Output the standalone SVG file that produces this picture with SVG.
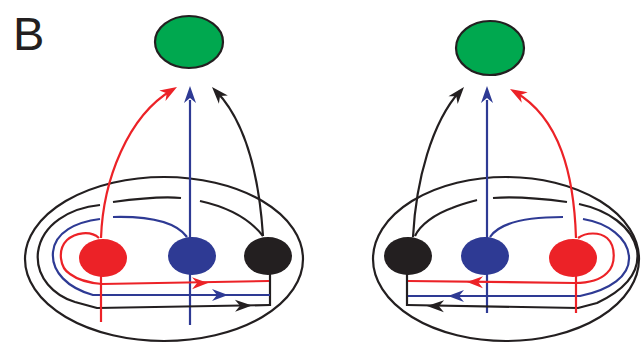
<svg xmlns="http://www.w3.org/2000/svg" xmlns:xlink="http://www.w3.org/1999/xlink" width="641" height="344" viewBox="0 0 641 344">
  <style>
    .ln { fill: none; stroke-width: 2.2; stroke-linecap: butt; stroke-linejoin: round; }
    .r { stroke: #ec2227; }
    .b { stroke: #2e3a94; }
    .k { stroke: #231f20; }
    .fr { fill: #ec2227; }
    .fb { fill: #2e3a94; }
    .fk { fill: #231f20; }
    .ring { fill: none; stroke: #231f20; stroke-width: 2.2; }
    .target { fill: #00a84f; stroke: #231f20; stroke-width: 2.2; }
    .label { font-family: "Liberation Sans", Arial, sans-serif; font-size: 47px; fill: #231f20; }
  </style>
  <defs>
    <!-- swept-back arrowhead, tip at origin pointing along +x -->
    <path id="ah" d="M0,0 L-17,-6 L-12,0 L-17,6 Z"/>
    <path id="ahs" d="M0,0 L-16,-6 L-11,0 L-16,6 Z"/>
  </defs>

  <text class="label" x="13" y="50">B</text>

  <!-- left panel -->
  <g id="left-panel">
    <g id="left-field">
      <ellipse class="ring" cx="164" cy="259" rx="139" ry="82"/>
    </g>
    <g id="left-target">
      <ellipse class="target" cx="189" cy="42" rx="34" ry="26"/>
    </g>
    <g id="left-connectors">
      <!-- projections to target -->
      <path class="ln r" d="M101,238 C103,180 128,116 172,90"/>
      <use xlink:href="#ah" class="fr" transform="translate(177,87) rotate(-31)"/>
      <path class="ln b" d="M190,325 L190,100"/>
      <use xlink:href="#ah" class="fb" transform="translate(190,86) rotate(-90)"/>
      <path class="ln k" d="M263,236 C259,175 246,122 216,91"/>
      <use xlink:href="#ah" class="fk" transform="translate(212,87) rotate(-132)"/>

      <!-- black loop -->
      <path class="ln k" d="M263,236 C252,222 232,208 200,201"/>
      <path class="ln k" d="M181,198 C160,196 135,199 113,202"/>
      <path class="ln k" d="M100,205 C70,208 42,224 38,252 C35,278 55,296 75,302 L97,308 L270,305"/>
      <path class="ln k" d="M270,274 L270,306"/>
      <use xlink:href="#ah" class="fk" transform="translate(252,305.5) rotate(-1)"/>

      <!-- blue loop -->
      <path class="ln b" d="M187,237 C176,222 152,216 113,217"/>
      <path class="ln b" d="M100,219 C76,222 55,232 53,252 C51,272 68,288 93,295 L270,295"/>
      <use xlink:href="#ahs" class="fb" transform="translate(228,295)"/>

      <!-- red loop -->
      <path class="ln r" d="M99,238 C90,230 75,233 67,240 C57,250 60,268 70,274 C78,280 90,283 102,284 L269,281"/>
      <use xlink:href="#ahs" class="fr" transform="translate(208,283) rotate(-0.6)"/>

      <!-- descending lines -->
      <path class="ln r" d="M101,276 L101,322"/>
    </g>
    <g id="left-red">
      <ellipse class="fr" cx="103" cy="258" rx="24" ry="19"/>
    </g>
    <g id="left-blue">
      <ellipse class="fb" cx="192" cy="256" rx="24" ry="19"/>
    </g>
    <g id="left-black">
      <ellipse class="fk" cx="268" cy="256" rx="24" ry="19"/>
    </g>
  </g>

  <!-- right panel -->
  <g id="right-panel">
    <g id="right-field">
      <ellipse class="ring" cx="506" cy="259" rx="133" ry="82"/>
    </g>
    <g id="right-target">
      <ellipse class="target" cx="490" cy="48" rx="34" ry="27"/>
    </g>
    <g id="right-connectors">
      <!-- projections to target -->
      <path class="ln k" d="M413,237 C416,180 432,122 460,91"/>
      <use xlink:href="#ah" class="fk" transform="translate(464,87) rotate(-50)"/>
      <path class="ln b" d="M487,313 L487,100"/>
      <use xlink:href="#ah" class="fb" transform="translate(487,86) rotate(-90)"/>
      <path class="ln r" d="M576,238 C574,175 560,118 515,92"/>
      <use xlink:href="#ah" class="fr" transform="translate(510,89) rotate(-150)"/>

      <!-- black loop -->
      <path class="ln k" d="M415,236 C420,225 435,214 452,208 C462,204 470,202 477,200"/>
      <path class="ln k" d="M493,198 C520,196 545,199 567,202"/>
      <path class="ln k" d="M579,204 C607,210 632,226 637,250 C641,275 620,292 597,303 L578,308 L407,305"/>
      <path class="ln k" d="M407,274 L407,306"/>
      <use xlink:href="#ah" class="fk" transform="translate(427,306) rotate(181)"/>

      <!-- blue loop -->
      <path class="ln b" d="M490,237 C500,222 530,217 563,217"/>
      <path class="ln b" d="M583,219 C608,223 628,238 629,257 C630,276 610,290 580,296 L408,296"/>
      <use xlink:href="#ahs" class="fb" transform="translate(448,296) rotate(180)"/>

      <!-- red loop -->
      <path class="ln r" d="M578,238 C586,232 600,232 607,238 C616,246 616,265 607,273 C600,280 590,283 575,283 L408,281"/>
      <use xlink:href="#ahs" class="fr" transform="translate(467,282) rotate(180.6)"/>

      <!-- descending lines -->
      <path class="ln r" d="M576,276 L576,313"/>
    </g>
    <g id="right-black">
      <ellipse class="fk" cx="408" cy="256" rx="24" ry="19"/>
    </g>
    <g id="right-blue">
      <ellipse class="fb" cx="485" cy="256" rx="24" ry="19"/>
    </g>
    <g id="right-red">
      <ellipse class="fr" cx="573" cy="258" rx="24" ry="19"/>
    </g>
  </g>
</svg>
